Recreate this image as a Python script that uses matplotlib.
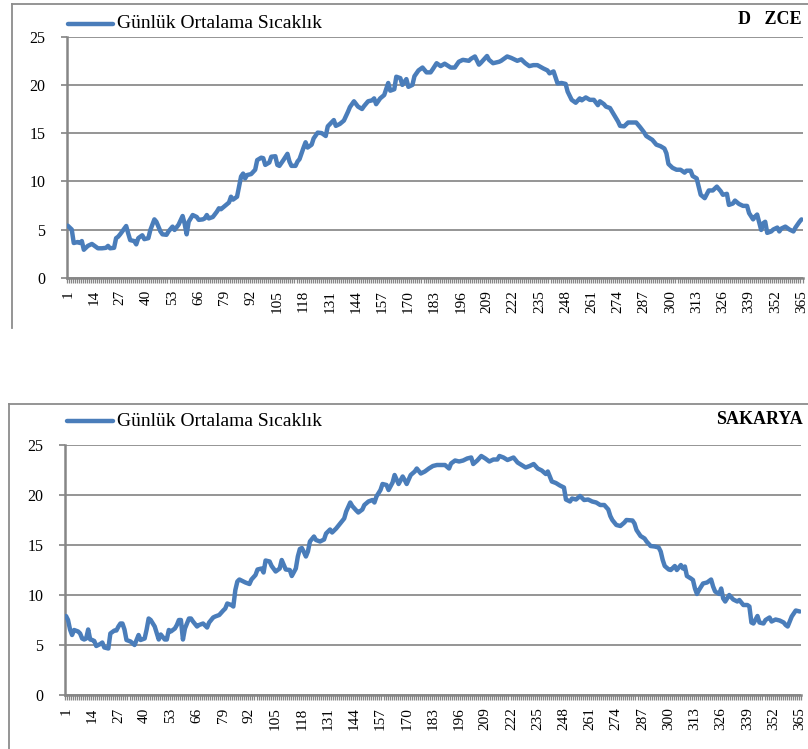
import matplotlib
matplotlib.use("Agg")
import matplotlib.pyplot as plt
from matplotlib.lines import Line2D
import numpy as np

plt.rcParams['font.family'] = ['Liberation Serif', 'DejaVu Serif']

# ---------------- data ----------------
legend_label = "Günlük Ortalama Sıcaklık"
title_top = "D   ZCE"
title_bottom = "SAKARYA"
tick_days = list(range(1, 366, 13))
y_ticks = [0, 5, 10, 15, 20, 25]

duzce_days = [1, 3, 4, 6, 7, 8, 9, 11, 13, 16, 18, 20, 21, 22, 24, 25, 26, 27, 30, 31,
              32, 34, 35, 36, 38, 39, 41, 42, 44, 45, 47, 48, 50, 51, 53, 54, 56, 58, 59, 60,
              61, 63, 65, 66, 68, 69, 70, 71, 73, 75, 76, 77, 79, 81, 82, 83, 85, 86, 87, 88,
              89, 90, 92, 94, 95, 97, 98, 99, 101, 102, 104, 105, 106, 108, 110, 111, 112, 114, 115, 116,
              117, 118, 119, 120, 122, 123, 125, 127, 129, 130, 133, 134, 136, 138, 140, 141, 143, 145, 147, 148,
              150, 152, 153, 154, 156, 158, 160, 161, 163, 164, 166, 167, 169, 170, 172, 173, 175, 177, 179, 181,
              182, 184, 186, 188, 191, 193, 195, 197, 200, 201, 203, 205, 206, 209, 210, 212, 215, 216, 219, 221,
              224, 226, 228, 230, 232, 234, 237, 239, 240, 242, 244, 246, 248, 249, 251, 253, 255, 256, 258, 260,
              262, 264, 265, 267, 268, 270, 272, 274, 275, 277, 279, 281, 283, 285, 287, 288, 291, 293, 295, 297,
              298, 299, 301, 303, 305, 307, 308, 310, 311, 313, 314, 315, 317, 319, 321, 323, 325, 326, 328, 329,
              331, 332, 334, 336, 338, 339, 341, 342, 343, 345, 346, 347, 348, 350, 351, 353, 354, 355, 357, 359,
              361, 362, 364, 365]
duzce_temp = [5.4, 5.0, 3.6, 3.7, 3.6, 3.8, 2.9, 3.3, 3.5, 3.05, 3.05, 3.1, 3.3, 3.05, 3.1, 4.1, 4.25, 4.5, 5.36, 4.6,
              3.9, 3.8, 3.46, 4.1, 4.4, 4.0, 4.1, 4.95, 6.05, 5.8, 4.8, 4.5, 4.45, 4.8, 5.3, 4.95, 5.5, 6.4, 5.6, 4.5,
              5.8, 6.5, 6.3, 6.0, 6.05, 6.15, 6.5, 6.15, 6.3, 6.85, 7.2, 7.1, 7.45, 7.8, 8.4, 8.1, 8.4, 9.45, 10.5, 10.8,
              10.3, 10.65, 10.75, 11.2, 12.2, 12.45, 12.4, 11.7, 11.95, 12.55, 12.6, 11.7, 11.6, 12.2, 12.85, 12.05, 11.6, 11.6, 12.05, 12.3,
              12.9, 13.5, 14.05, 13.5, 13.8, 14.45, 15.05, 15.0, 14.7, 15.7, 16.35, 15.75, 15.95, 16.3, 17.2, 17.7, 18.3, 17.75, 17.5, 17.8,
              18.3, 18.4, 18.6, 18.0, 18.6, 18.95, 20.2, 19.4, 19.55, 20.85, 20.7, 20.0, 20.6, 19.8, 20.0, 20.9, 21.5, 21.8, 21.3, 21.3,
              21.6, 22.25, 21.95, 22.2, 21.8, 21.8, 22.4, 22.6, 22.5, 22.7, 22.95, 22.1, 22.3, 23.0, 22.6, 22.25, 22.4, 22.5, 22.95, 22.8,
              22.5, 22.65, 22.25, 21.95, 22.05, 22.05, 21.7, 21.5, 21.2, 21.4, 20.15, 20.2, 20.1, 19.3, 18.45, 18.15, 18.6, 18.4, 18.7, 18.45,
              18.45, 17.9, 18.3, 18.0, 17.75, 17.6, 16.9, 16.2, 15.75, 15.7, 16.1, 16.1, 16.1, 15.6, 15.05, 14.7, 14.3, 13.8, 13.65, 13.4,
              12.9, 11.8, 11.4, 11.2, 11.2, 10.9, 11.1, 11.1, 10.55, 10.3, 9.45, 8.6, 8.25, 9.05, 9.05, 9.45, 8.95, 8.6, 8.7, 7.55,
              7.7, 8.0, 7.65, 7.45, 7.45, 6.7, 6.05, 6.35, 6.55, 4.95, 5.65, 5.8, 4.65, 4.8, 5.0, 5.2, 4.8, 5.1, 5.3, 5.0,
              4.8, 5.2, 5.8, 6.05]

sakarya_days = [1, 2, 3, 4, 5, 7, 8, 9, 10, 11, 12, 13, 14, 15, 16, 18, 19, 20, 22, 23,
                25, 26, 27, 28, 29, 30, 31, 33, 35, 37, 38, 40, 41, 42, 43, 45, 47, 48, 50, 51,
                52, 53, 55, 56, 57, 58, 59, 60, 62, 63, 64, 66, 67, 69, 71, 72, 74, 75, 77, 79,
                80, 81, 83, 84, 85, 86, 87, 89, 90, 92, 93, 95, 96, 98, 99, 100, 102, 103, 105, 107,
                108, 110, 112, 113, 115, 116, 117, 118, 119, 120, 121, 122, 124, 125, 127, 129, 130, 132, 133, 135,
                137, 139, 140, 142, 143, 145, 146, 148, 149, 151, 153, 154, 155, 157, 158, 160, 161, 163, 164, 166,
                168, 169, 170, 172, 174, 175, 177, 179, 181, 183, 185, 187, 189, 191, 192, 194, 196, 198, 200, 202,
                203, 205, 207, 209, 211, 213, 215, 216, 218, 220, 223, 225, 227, 229, 231, 233, 235, 237, 239, 240,
                242, 244, 246, 248, 249, 251, 252, 254, 256, 258, 260, 262, 264, 266, 268, 270, 271, 272, 274, 276,
                278, 279, 282, 283, 284, 286, 288, 289, 291, 293, 295, 296, 297, 298, 300, 301, 303, 304, 306, 307,
                308, 309, 311, 312, 313, 314, 315, 317, 319, 321, 322, 323, 325, 326, 327, 328, 330, 332, 334, 335,
                337, 339, 340, 341, 342, 344, 345, 347, 348, 350, 351, 353, 355, 357, 358, 359, 361, 363, 365]
sakarya_temp = [7.9, 7.5, 6.55, 6.0, 6.5, 6.35, 6.15, 5.65, 5.55, 5.65, 6.55, 5.55, 5.5, 5.4, 4.9, 5.1, 5.25, 4.75, 4.65, 6.15,
                6.45, 6.45, 6.85, 7.15, 7.15, 6.55, 5.5, 5.35, 5.0, 6.0, 5.5, 5.65, 6.55, 7.65, 7.5, 6.85, 5.55, 6.05, 5.55, 5.55,
                6.5, 6.35, 6.65, 7.0, 7.5, 7.5, 5.55, 6.65, 7.65, 7.65, 7.35, 6.85, 7.0, 7.15, 6.75, 7.25, 7.75, 7.85, 8.0, 8.45,
                8.65, 9.15, 9.0, 8.85, 10.5, 11.35, 11.55, 11.35, 11.25, 11.1, 11.55, 12.0, 12.55, 12.65, 12.25, 13.45, 13.35, 12.9, 12.35, 12.65,
                13.5, 12.55, 12.5, 11.9, 12.65, 13.85, 14.6, 14.7, 14.3, 13.85, 14.35, 15.35, 15.85, 15.5, 15.35, 15.55, 16.15, 16.55, 16.25, 16.65,
                17.15, 17.65, 18.35, 19.25, 18.9, 18.45, 18.25, 18.55, 19.0, 19.35, 19.5, 19.25, 19.85, 20.5, 21.1, 21.0, 20.5, 21.25, 22.0, 21.1,
                21.85, 21.5, 21.1, 22.0, 22.35, 22.65, 22.15, 22.35, 22.65, 22.9, 23.0, 23.0, 23.0, 22.65, 23.15, 23.45, 23.35, 23.45, 23.65, 23.75,
                23.1, 23.45, 23.9, 23.65, 23.35, 23.55, 23.55, 23.9, 23.75, 23.5, 23.75, 23.25, 23.0, 22.75, 22.9, 23.1, 22.65, 22.45, 22.1, 22.35,
                21.35, 21.2, 20.95, 20.75, 19.55, 19.35, 19.65, 19.55, 19.9, 19.5, 19.55, 19.35, 19.25, 19.0, 19.0, 18.55, 17.9, 17.5, 17.0, 16.9,
                17.25, 17.5, 17.45, 17.15, 16.5, 15.9, 15.65, 15.35, 14.9, 14.85, 14.75, 14.35, 13.5, 12.9, 12.55, 12.5, 12.9, 12.5, 13.0, 12.65,
                12.85, 11.9, 11.65, 11.5, 10.65, 10.1, 10.5, 11.15, 11.25, 11.55, 10.85, 10.35, 10.1, 10.65, 9.65, 9.35, 10.0, 9.55, 9.35, 9.5,
                9.0, 9.0, 8.85, 7.25, 7.15, 7.9, 7.25, 7.15, 7.5, 7.75, 7.35, 7.55, 7.45, 7.25, 7.0, 6.85, 7.85, 8.45, 8.35]

# ---------------- styling ----------------
W, H = 808, 749
LINE_COLOR = '#4A7DBA'
GRID_COLOR = '#8c8c8c'
AXIS_COLOR = '#868686'
LINE_W = 3.2

fig = plt.figure(figsize=(W / 100, H / 100), dpi=100)


def fx(px):
    return px / W


def fy(py):
    return 1 - py / H


def make_panel(rect, days, temps):
    ax = fig.add_axes(rect)
    ax.plot(days, temps, color=LINE_COLOR, lw=LINE_W, solid_joinstyle='round',
            solid_capstyle='round', zorder=3)
    ax.set_xlim(0.5, 365.5)
    ax.set_ylim(0, 25)
    ax.set_yticks(y_ticks)
    ax.set_yticklabels([str(v) for v in y_ticks], fontsize=11.5)
    ax.yaxis.grid(True, color=GRID_COLOR, lw=1.3)
    ax.set_axisbelow(True)
    for s in ['top', 'right']:
        ax.spines[s].set_visible(False)
    for s in ['left', 'bottom']:
        ax.spines[s].set_color(AXIS_COLOR)
        ax.spines[s].set_linewidth(1.8)
    ax.tick_params(axis='y', length=4.5, width=1.3, color=GRID_COLOR, pad=11)
    ax.set_xticks(tick_days)
    ax.set_xticklabels([str(d) for d in tick_days], rotation=90, fontsize=11,
                       va='top', ha='center')
    ax.set_xticks(np.arange(0.5, 366, 1.0), minor=True)
    ax.tick_params(axis='x', which='major', length=0, pad=9)
    ax.tick_params(axis='x', which='minor', length=3.5, width=0.9, color=AXIS_COLOR)
    return ax


ax1 = make_panel([fx(66.7), fy(277.7), (802.5 - 66.7) / W, 241 / H], duzce_days, duzce_temp)
ax2 = make_panel([fx(65), fy(695), (800.8 - 65) / W, 250 / H], sakarya_days, sakarya_temp)

# outer frames (cut off at right / bottom like the reference)
frame_kw = dict(color='#8c8c8c', lw=1.3, transform=fig.transFigure)
fig.add_artist(Line2D([fx(12), 1], [fy(4), fy(4)], **frame_kw))
fig.add_artist(Line2D([fx(12), fx(12)], [fy(4), fy(328)], **frame_kw))
fig.add_artist(Line2D([fx(9), 1], [fy(404), fy(404)], **frame_kw))
fig.add_artist(Line2D([fx(9), fx(9)], [fy(404), 0], **frame_kw))

# legends
for ly, lx0, lx1 in [(24, 68, 113), (421, 67, 113)]:
    fig.add_artist(Line2D([fx(lx0), fx(lx1)], [fy(ly), fy(ly)], color=LINE_COLOR,
                          lw=LINE_W, solid_capstyle='round', transform=fig.transFigure))
    fig.text(fx(117), fy(ly), legend_label, fontsize=14, ha='left', va='center')

# titles
fig.text(fx(802), fy(20), title_top, fontsize=13, fontweight='bold', ha='right', va='center')
fig.text(fx(803), fy(420), title_bottom, fontsize=13, fontweight='bold', ha='right', va='center')

fig.savefig('out.png', dpi=100)
